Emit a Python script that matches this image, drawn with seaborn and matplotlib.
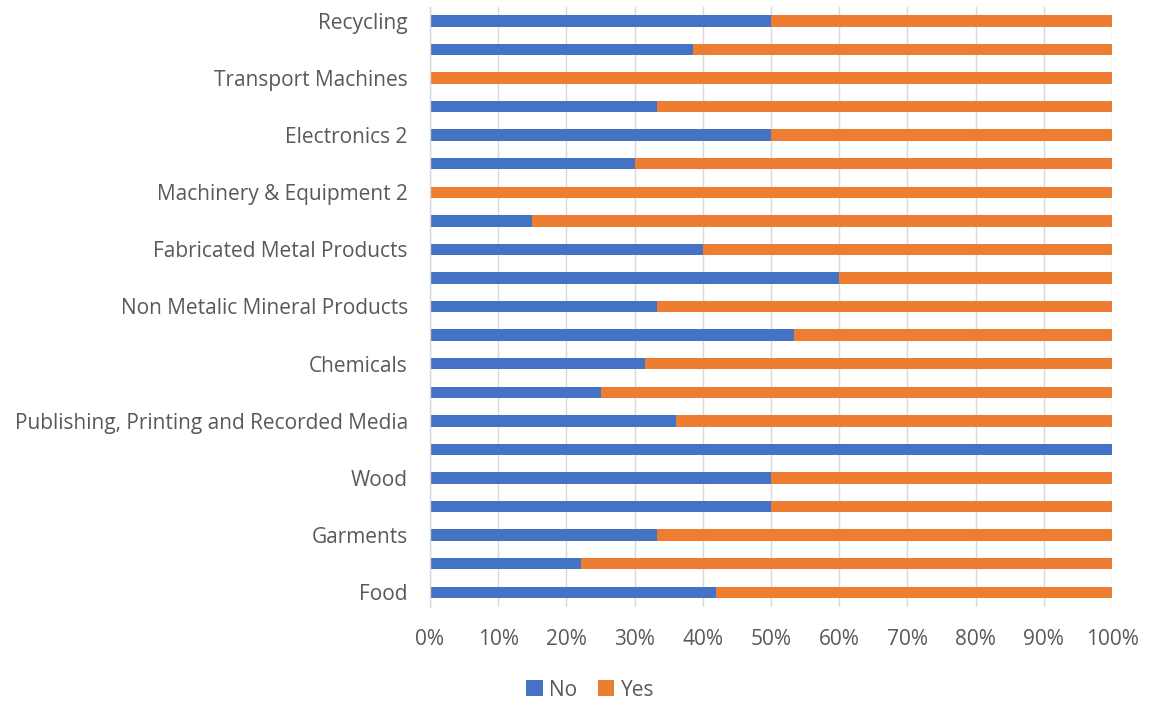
import matplotlib
matplotlib.use("Agg")
import matplotlib.pyplot as plt
import seaborn as sns
import pandas as pd
import numpy as np

categories = [
    "Food", "Textiles", "Garments", "Leather", "Wood", "Paper",
    "Publishing, Printing and Recorded Media", "Refined Petroleum", "Chemicals",
    "Rubber & Plastics", "Non Metalic Mineral Products", "Basic Metals",
    "Fabricated Metal Products", "Machinery & Equipment 1", "Machinery & Equipment 2",
    "Electronics 1", "Electronics 2", "Medical Instruments", "Transport Machines",
    "Furniture", "Recycling",
]
no_share = [42.0, 22.2, 33.3, 50.0, 50.0, 100.0, 36.0, 25.0, 31.5, 53.3, 33.3,
            60.0, 40.0, 15.0, 0.0, 30.0, 50.0, 33.3, 0.0, 38.5, 50.0]
yes_share = [100 - v for v in no_share]
shown_labels = [c if i % 2 == 0 else "" for i, c in enumerate(categories)]

sns.set_theme(style="white")
plt.rcParams["font.family"] = ["Open Sans", "DejaVu Sans"]

df = pd.DataFrame({"category": categories, "No": no_share, "Yes": yes_share})
df["total"] = df["No"] + df["Yes"]

fig = plt.figure(figsize=(11.49, 7.07), dpi=100)
ax = fig.add_axes([430 / 1149, 1 - 606.5 / 707, 682 / 1149, 600 / 707])

order = categories[::-1]
sns.barplot(data=df, y="category", x="total", order=order, color="#ED7D31",
            width=0.4, ax=ax, orient="h", label="Yes", saturation=1,
            linewidth=0, legend=False)
sns.barplot(data=df, y="category", x="No", order=order, color="#4472C4",
            width=0.4, ax=ax, orient="h", label="No", saturation=1,
            linewidth=0, legend=False)
if ax.get_legend() is not None:
    ax.get_legend().remove()

ax.set_xlim(0, 100)
ax.set_ylim(len(categories) - 0.5, -0.5)
ticks = np.arange(0, 101, 10)
ax.set_xticks(ticks)
ax.set_xticklabels([f"{t}%" for t in ticks], color="#595959", fontsize=15)
ax.set_yticks(range(len(order)))
ax.set_yticklabels(shown_labels[::-1], color="#595959", fontsize=15)
ax.tick_params(axis="both", length=0)
ax.tick_params(axis="y", pad=16)
ax.tick_params(axis="x", pad=16)
ax.set_xlabel("")
ax.set_ylabel("")
ax.xaxis.grid(True, color="#D9D9D9", linewidth=1)
ax.set_axisbelow(True)
for s in ["top", "right", "bottom"]:
    ax.spines[s].set_visible(False)
ax.spines["left"].set_color("#D9D9D9")
ax.spines["left"].set_linewidth(1)

handles, labels = ax.get_legend_handles_labels()
hmap = dict(zip(labels, handles))
leg = fig.legend([hmap["No"], hmap["Yes"]], ["No", "Yes"], loc="center",
                 bbox_to_anchor=(590 / 1149, 1 - 690 / 707), ncol=2, frameon=False,
                 fontsize=15, handlelength=0.8, handleheight=0.8, handletextpad=0.3,
                 columnspacing=1.0)
for t in leg.get_texts():
    t.set_color("#595959")

fig.savefig("out.png", dpi=100)
